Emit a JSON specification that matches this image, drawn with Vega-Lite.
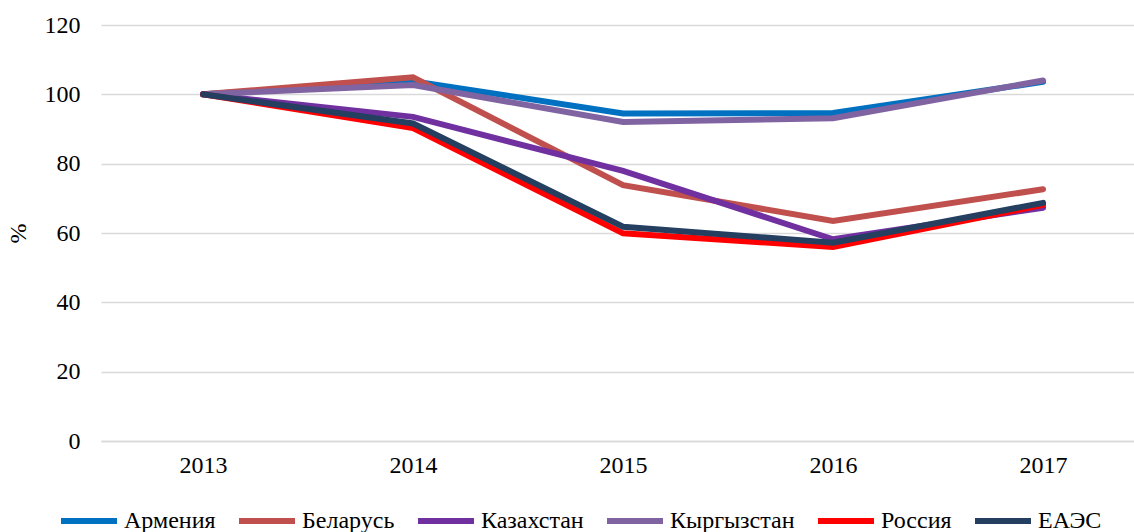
{
  "$schema": "https://vega.github.io/schema/vega-lite/v6.json",
  "autosize": "none",
  "width": 1033,
  "height": 416,
  "padding": {"left": 101, "top": 25, "right": 0, "bottom": 91},
  "background": "white",
  "config": {
    "view": {"stroke": null},
    "font": "Times New Roman, Liberation Serif, serif",
    "axis": {"labelFont": "Times New Roman, Liberation Serif, serif", "titleFont": "Times New Roman, Liberation Serif, serif", "labelColor": "#000", "titleColor": "#000"},
    "legend": {"labelFont": "Times New Roman, Liberation Serif, serif", "labelColor": "#000"}
  },
  "data": {
    "values": [
      {"country": "Армения", "year": 2013, "value": 100},
      {"country": "Армения", "year": 2014, "value": 103.8},
      {"country": "Армения", "year": 2015, "value": 94.5},
      {"country": "Армения", "year": 2016, "value": 94.6},
      {"country": "Армения", "year": 2017, "value": 103.6},
      {"country": "Беларусь", "year": 2013, "value": 100},
      {"country": "Беларусь", "year": 2014, "value": 104.9},
      {"country": "Беларусь", "year": 2015, "value": 73.8},
      {"country": "Беларусь", "year": 2016, "value": 63.5},
      {"country": "Беларусь", "year": 2017, "value": 72.6},
      {"country": "Казахстан", "year": 2013, "value": 100},
      {"country": "Казахстан", "year": 2014, "value": 93.5},
      {"country": "Казахстан", "year": 2015, "value": 77.9},
      {"country": "Казахстан", "year": 2016, "value": 58.2},
      {"country": "Казахстан", "year": 2017, "value": 67.3},
      {"country": "Кыргызстан", "year": 2013, "value": 100},
      {"country": "Кыргызстан", "year": 2014, "value": 102.7},
      {"country": "Кыргызстан", "year": 2015, "value": 92.0},
      {"country": "Кыргызстан", "year": 2016, "value": 93.1},
      {"country": "Кыргызстан", "year": 2017, "value": 104.0},
      {"country": "Россия", "year": 2013, "value": 100},
      {"country": "Россия", "year": 2014, "value": 90.3},
      {"country": "Россия", "year": 2015, "value": 59.9},
      {"country": "Россия", "year": 2016, "value": 56.0},
      {"country": "Россия", "year": 2017, "value": 68.1},
      {"country": "ЕАЭС", "year": 2013, "value": 100},
      {"country": "ЕАЭС", "year": 2014, "value": 91.6},
      {"country": "ЕАЭС", "year": 2015, "value": 61.8},
      {"country": "ЕАЭС", "year": 2016, "value": 57.2},
      {"country": "ЕАЭС", "year": 2017, "value": 68.7}
    ]
  },
  "mark": {"type": "line", "strokeWidth": 6, "strokeCap": "round"},
  "encoding": {
    "x": {
      "field": "year",
      "type": "quantitative",
      "scale": {"domain": [2012.514, 2017.433], "nice": false, "zero": false},
      "axis": {
        "values": [2013, 2014, 2015, 2016, 2017],
        "format": "d",
        "title": null,
        "grid": false,
        "ticks": false,
        "domainColor": "#D9D9D9",
        "domainWidth": 1.5,
        "labelFontSize": 24,
        "labelPadding": 12,
        "labelFlush": false
      }
    },
    "y": {
      "field": "value",
      "type": "quantitative",
      "scale": {"domain": [0, 120], "nice": false},
      "axis": {
        "values": [0, 20, 40, 60, 80, 100, 120],
        "title": "%",
        "titleFontSize": 24,
        "titleFontWeight": "normal",
        "titlePadding": 14,
        "labelFontSize": 24,
        "labelPadding": 21,
        "ticks": false,
        "domain": false,
        "gridColor": "#D9D9D9",
        "gridWidth": 1.5
      }
    },
    "color": {
      "field": "country",
      "type": "nominal",
      "scale": {
        "domain": ["Армения", "Беларусь", "Казахстан", "Кыргызстан", "Россия", "ЕАЭС"],
        "range": ["#0070C0", "#C0504D", "#7030A0", "#8064A2", "#FF0000", "#243F60"]
      },
      "legend": {
        "title": null,
        "orient": "none",
        "direction": "horizontal",
        "legendX": -43,
        "legendY": 465,
        "symbolType": "stroke",
        "symbolSize": 3136,
        "symbolStrokeWidth": 6,
        "labelFontSize": 24,
        "labelOffset": 4,
        "columnPadding": 11,
        "padding": 0
      }
    },
    "order": {"field": "country"}
  }
}
